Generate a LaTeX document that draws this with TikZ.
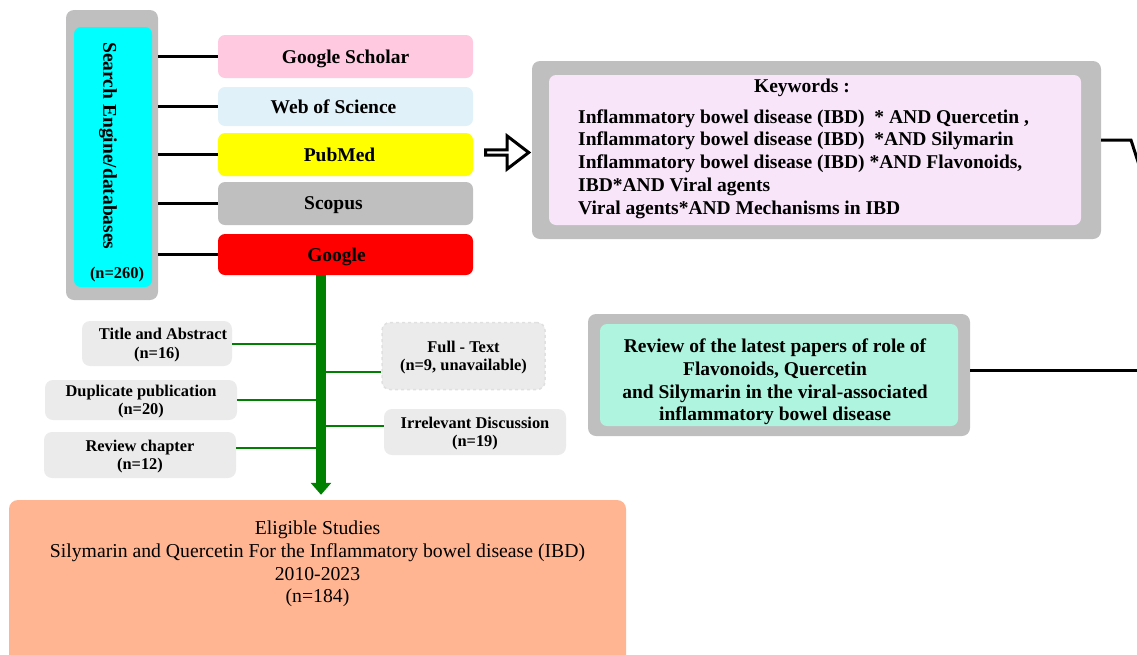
\documentclass[tikz,border=0pt]{standalone}
\usepackage{fontspec}
\setmainfont{Liberation Serif}
\usetikzlibrary{positioning,shapes.arrows,arrows.meta}

\definecolor{framegray}{HTML}{BFBFBF}
\definecolor{seacyan}{HTML}{00FFFF}
\definecolor{gspink}{HTML}{FFC9E0}
\definecolor{wosblue}{HTML}{E1F1FA}
\definecolor{pmyellow}{HTML}{FFFF00}
\definecolor{gored}{HTML}{FF0000}
\definecolor{trunkgreen}{HTML}{008000}
\definecolor{exgray}{HTML}{EBEBEB}
\definecolor{kwpink}{HTML}{F9E5F9}
\definecolor{rvwmint}{HTML}{AFF4DF}
\definecolor{eligorange}{HTML}{FFB592}

\tikzset{
  framebox/.style={fill=framegray, rounded corners=8pt, inner sep=0pt},
  dbbox/.style={rounded corners=7pt, minimum width=255pt, inner sep=0pt, text depth=0pt,
    font=\fontsize{19.5}{23}\selectfont\bfseries},
  exbox/.style={fill=exgray, rounded corners=8pt, inner sep=0pt, align=center, text depth=0pt,
    font=\fontsize{16.4}{18.5}\selectfont\bfseries},
  kwfont/.style={font=\fontsize{19.5}{22.8}\selectfont\bfseries},
  blackline/.style={draw=black, line width=3pt},
  branch/.style={draw=trunkgreen, line width=2pt},
  greenarrow/.style={draw=trunkgreen, line width=10pt, -{Triangle[width=20pt,length=12pt]}}
}

\begin{document}
\begin{tikzpicture}[x=1pt,y=-1pt]
\useasboundingbox (0,0) rectangle (1137,654);
\clip (0,0) rectangle (1137,654);

% search engines
\node (srch) [framebox, minimum width=92pt, minimum height=290pt] at (112,155) {};
\node (srchin) [fill=seacyan, rounded corners=7pt, inner sep=0pt, minimum width=78pt, minimum height=260pt] at (113,157) {};
\node (srchlbl) [rotate=-90, kwfont] at (108,146) {Search Engine/databases};
\node (srchn) [font=\fontsize{16.4}{18}\selectfont\bfseries] at (117,275) {(n=260)};

\node (gs) [dbbox, fill=gspink, minimum height=43pt] at (345.5,56.5) {Google Scholar};
\node (wos) [dbbox, fill=wosblue, minimum height=39pt] at (345.5,106.5) {\hspace*{-24pt}Web of Science};
\node (pm) [dbbox, fill=pmyellow, minimum height=43pt] at (345.5,154.5) {\hspace*{-12pt}PubMed};
\node (sc) [dbbox, fill=framegray, minimum height=43pt] at (345.5,203.5) {\hspace*{-24pt}Scopus};
\node (go) [dbbox, fill=gored, minimum height=41pt] at (345.5,254.5) {\hspace*{-18pt}Google};

\foreach \db in {gs,wos,pm,sc,go}
  \draw[blackline] (srch.east |- \db.west) -- (\db.west);

% keywords
\node (kw) [framebox, minimum width=569pt, minimum height=178pt] at (816.5,150) {};
\node (kwin) [fill=kwpink, rounded corners=7pt, inner sep=0pt, minimum width=532pt, minimum height=150pt] at (815,150) {};
\node (kwtitle) [kwfont] at (802,88) {Keywords :};
\node (kwlist) [kwfont, align=left, anchor=west, inner sep=0pt] at (578,164)
  {Inflammatory bowel disease (IBD)\ \ * AND Quercetin ,\\
   Inflammatory bowel disease (IBD)\ \ *AND Silymarin\\
   Inflammatory bowel disease (IBD) *AND Flavonoids,\\
   IBD*AND Viral agents\\
   Viral agents*AND Mechanisms in IBD};

\node (toKw) [single arrow, draw=black, fill=white, line width=3pt, inner sep=0pt,
  minimum height=43pt, minimum width=33pt, single arrow head extend=8pt,
  single arrow tip angle=75] at (505.5,152.5) {};

\coordinate (kwbend) at (1131,0);
\coordinate (kwend) at (1140,168);
\draw[blackline] (kw.2) -- (kw.2 -| kwbend) -- (kwend);

% review
\node (rvw) [framebox, minimum width=382pt, minimum height=122pt] at (779,375) {};
\node (rvwin) [fill=rvwmint, rounded corners=7pt, inner sep=0pt, minimum width=358pt, minimum height=102pt] at (779,375) {};
\node (rvwtxt) [align=center, kwfont, inner sep=0pt] at (775,382)
  {Review of the latest papers of role of\\
   Flavonoids, Quercetin\\
   and Silymarin in the viral-associated\\
   inflammatory bowel disease};
\coordinate (rvwend) at (1145,370);
\draw[blackline] (rvw.east |- rvwend) -- (rvwend);

% eligible studies
\node (elig) [fill=eligorange, rounded corners=9pt, inner sep=0pt, minimum width=617pt, minimum height=190pt] at (317.5,595) {};
\node (eligtxt) [below=21pt of elig.north, inner sep=0pt, align=center, font=\fontsize{19.7}{22.7}\selectfont]
  {Eligible Studies\\
   Silymarin and Quercetin For the Inflammatory bowel disease (IBD)\\
   2010-2023\\
   (n=184)};

% exclusions
\node (ta) [exbox, minimum width=150pt, minimum height=45pt] at (157,343.5) {\hspace*{12pt}Title and Abstract\\(n=16)};
\node (dup) [exbox, minimum width=192pt, minimum height=40pt] at (141,400) {Duplicate publication\\(n=20)};
\node (rev) [exbox, minimum width=192pt, minimum height=46pt] at (140,455) {Review chapter\\(n=12)};
\node (ft) [exbox, draw=black!12, dashed, line width=1.5pt, minimum width=163pt, minimum height=67pt] at (463.5,356) {Full - Text\\(n=9, unavailable)};
\node (irr) [exbox, minimum width=182pt, minimum height=46pt] at (475,432) {Irrelevant Discussion\\(n=19)};

\coordinate (trunk) at (321,0);
\draw[branch] (ta.east) -- (ta.east -| trunk);
\draw[branch] (dup.east) -- (dup.east -| trunk);
\draw[branch] (rev.4) -- (rev.4 -| trunk);
\draw[branch] (ft.191) -- (ft.191 -| trunk);
\draw[branch] (irr.176) -- (irr.176 -| trunk);
\draw[greenarrow, shorten >=5pt] (go.south -| trunk) -- (elig.north -| trunk);
\end{tikzpicture}
\end{document}
